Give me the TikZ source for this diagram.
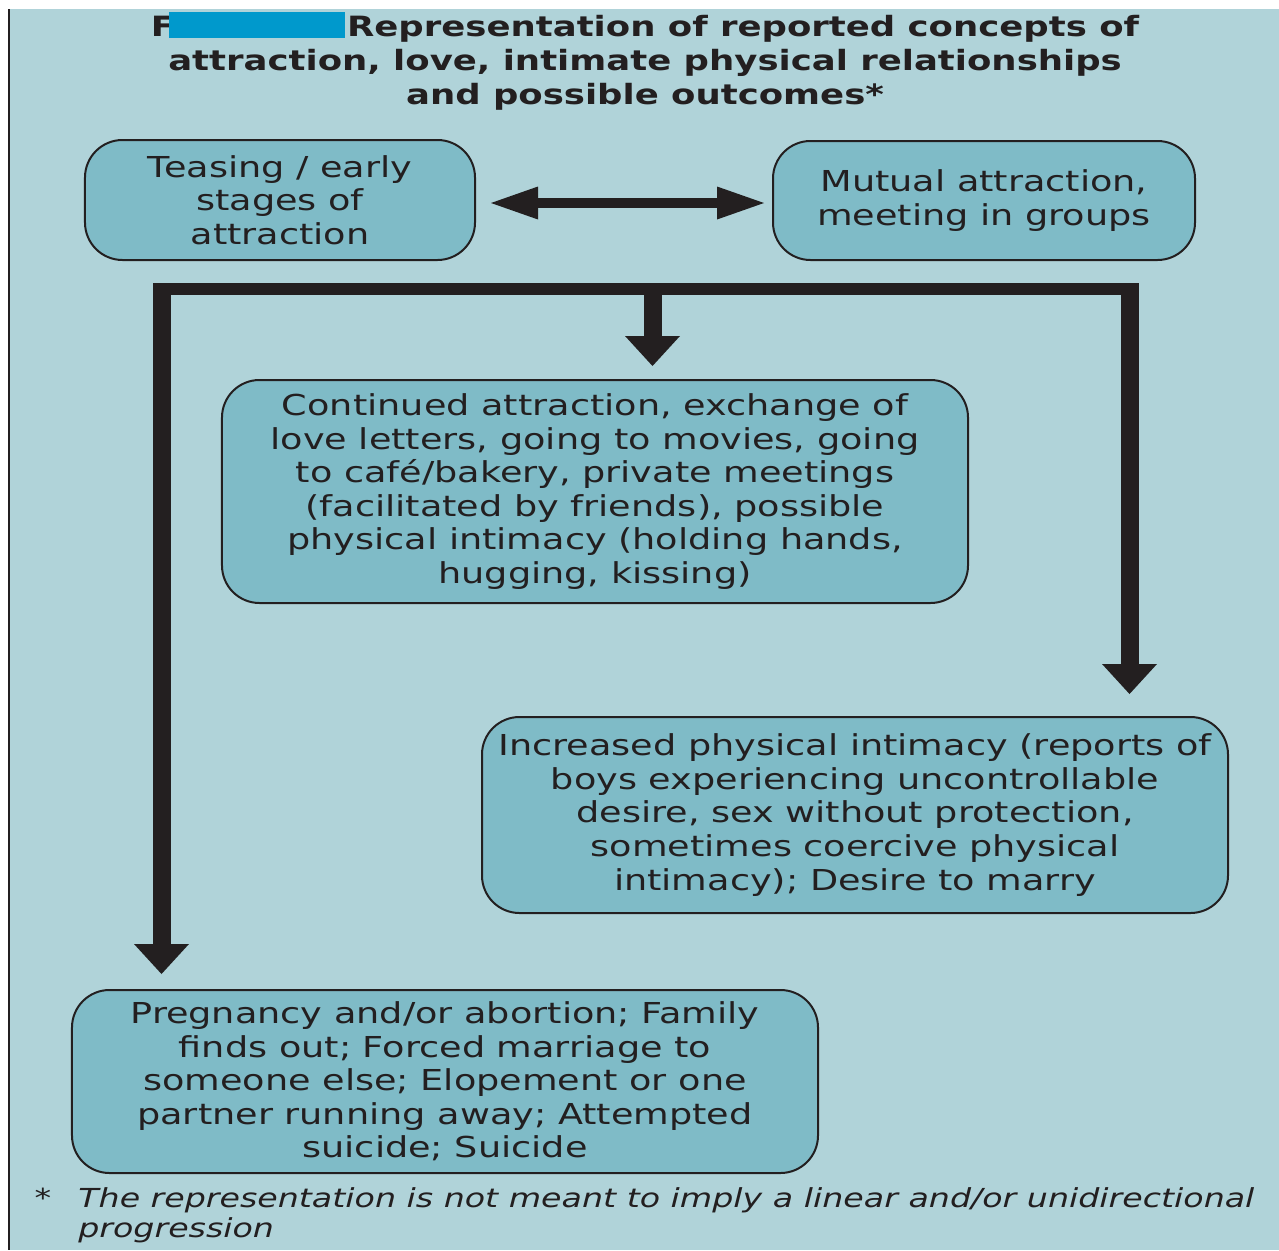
\documentclass[tikz,border=0pt]{standalone}
\usepackage{fontspec}
\setmainfont{DejaVu Sans}[FakeStretch=1.27]
\usetikzlibrary{arrows.meta,positioning,calc}
\definecolor{DiagBack}{HTML}{B0D3D9}
\definecolor{DiagBox}{HTML}{7FBBC7}
\definecolor{DiagInk}{HTML}{231F20}
\definecolor{DiagMask}{HTML}{0099CC}

\begin{document}
\begin{tikzpicture}[x=0.2mm, y=-0.2mm,
  box/.style={draw=DiagInk, fill=DiagBox, rounded corners=7.5mm, line width=0.4mm,
    text=DiagInk, font=\fontsize{16.4}{19.1}\selectfont, align=center, inner sep=0pt},
  bar/.style={draw=DiagInk, line width=2.4mm},
  feed/.style={draw=DiagInk, line width=3.6mm,
    -{Triangle[length=6mm, width=11mm, line width=0pt]}},
  dbl/.style={draw=DiagInk, line width=2mm,
    {Triangle[length=9.4mm, width=6.6mm, line width=0pt]}-{Triangle[length=9.4mm, width=6.6mm, line width=0pt]}}]
  % frame
  \useasboundingbox (0,0) rectangle (1279,1250);
  \fill[DiagBack] (9,9) rectangle (1279,1250);
  \draw[DiagInk, line width=0.4mm] (9,9) -- (9,1250);

  % title
  \node[text=DiagInk, font=\bfseries\fontsize{15.9}{19.4}\selectfont, align=center] (title) at (645,61)
    {F\kern-1.2mm\textcolor{DiagMask}{\rule[-0.3mm]{35.2mm}{5.3mm}}\kern0.4mm Representation of reported concepts of\\
     attraction, love, intimate physical relationships\\
     and possible outcomes*};

  % boxes
  \node[box, minimum width=78mm, minimum height=24mm] (tease) at (280,200)
    {Teasing / early\\stages of\\attraction};
  \node[box, minimum width=84.4mm, minimum height=23.8mm] (mutual) at (984,200.5)
    {Mutual attraction,\\meeting in groups};
  \node[box, minimum width=149.2mm, minimum height=44.6mm] (contin) at (595,491.5)
    {Continued attraction, exchange of\\love letters, going to movies, going\\to café/bakery, private meetings\\(facilitated by friends), possible\\physical intimacy (holding hands,\\hugging, kissing)};
  \node[box, minimum width=149.2mm, minimum height=39.2mm] (incr) at (855,815)
    {Increased physical intimacy (reports of\\boys experiencing uncontrollable\\desire, sex without protection,\\sometimes coercive physical\\intimacy); Desire to marry};
  \node[box, minimum width=149.2mm, minimum height=36.6mm] (outcome) at (445,1081.5)
    {Pregnancy and/or abortion; Family\\finds out; Forced marriage to\\someone else; Elopement or one\\partner running away; Attempted\\suicide; Suicide};

  % connectors
  \draw[dbl, shorten <=3mm, shorten >=1.6mm] ([yshift=-0.6mm]tease.east) -- ([yshift=-0.6mm]tease.east -| mutual.west);

  \coordinate (split-l) at (161.5,283);
  \coordinate (split-r) at (1129.5,283);
  \coordinate (split-m) at (652.5,289);
  \draw[bar] (153,289) -- (1139,289);
  \draw[feed, shorten >=2.6mm] (split-m) -- (split-m |- contin.north);
  \draw[feed, shorten >=4.4mm] (split-r) -- (split-r |- incr.north);
  \draw[feed, shorten >=3mm] (split-l) -- (split-l |- outcome.north);

  % footnote
  \node[text=DiagInk, font=\itshape\fontsize{14.9}{17}\selectfont, align=left, anchor=north west, inner sep=0pt] (note) at (78,1187)
    {The representation is not meant to imply a linear and/or unidirectional\\progression};
  \node[text=DiagInk, font=\fontsize{14.9}{17}\selectfont, anchor=north, inner sep=0pt] (note-star) at (43,1188) {*};
\end{tikzpicture}
\end{document}
